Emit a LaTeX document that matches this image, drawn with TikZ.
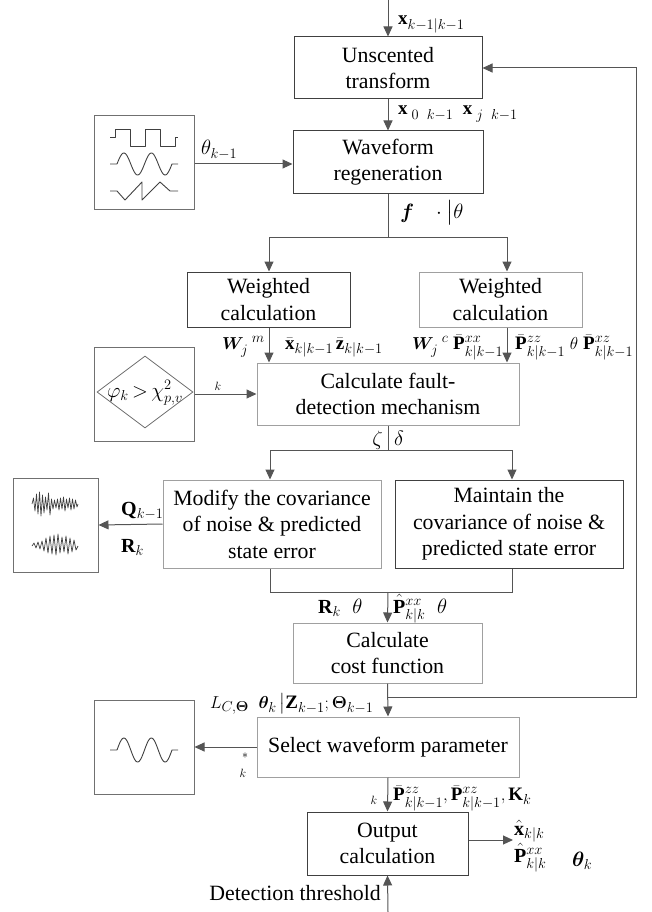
\documentclass[tikz,border=0pt]{standalone}
\usepackage{amsmath,bm}
\usepackage{fontspec}
\setmainfont{Liberation Serif}
\usetikzlibrary{arrows.meta,shapes.geometric}
\definecolor{darkline}{HTML}{404040}
\definecolor{lightline}{HTML}{A0A0A0}
\definecolor{midline}{HTML}{707070}
\definecolor{conn}{HTML}{555555}
\begin{document}
\begin{tikzpicture}[x=1pt,y=-1pt,
  font=\fontsize{21.8}{26.5}\selectfont,
  procbox/.style={draw=darkline,line width=1pt,inner sep=0pt,align=center},
  lightbox/.style={draw=lightline,line width=1pt,inner sep=0pt,align=center},
  iconbox/.style={draw=midline,line width=1pt,inner sep=0pt},
  conline/.style={draw=conn,line width=1pt},
  arr/.style={conline,-{Triangle[length=10pt,width=9pt]}},
  lbl/.style={inner sep=0pt,anchor=base west,font=\fontsize{19}{19}\selectfont},
  small/.style={inner sep=0pt,font=\fontsize{13}{13}\selectfont},
  wave/.style={draw=darkline,line width=0.9pt,line join=round}]
\useasboundingbox (0,0) rectangle (651,912);

% boxes
\node[procbox,minimum width=188pt,minimum height=62pt] (ut) at (388,68) {Unscented\\transform};
\node[procbox,minimum width=190pt,minimum height=62pt] (wr) at (388,162) {Waveform\\regeneration};
\node[procbox,minimum width=163pt,minimum height=55pt] (wl) at (268.5,299.5) {Weighted\\calculation};
\node[lightbox,minimum width=163pt,minimum height=55pt] (wrt) at (500.5,299.5) {Weighted\\calculation};
\node[lightbox,minimum width=262pt,minimum height=62pt] (fd) at (388,394) {Calculate fault-\\detection mechanism};
\node[lightbox,minimum width=218pt,minimum height=88pt] (md) at (272,524) {Modify the covariance\\of noise \& predicted\\state error};
\node[procbox,minimum width=228pt,minimum height=88pt] (mt) at (509,524) {Maintain the\\covariance of noise \&\\predicted state error};
\node[lightbox,minimum width=189pt,minimum height=60pt] (cf) at (387.5,653) {Calculate\\cost function};
\node[lightbox,minimum width=262pt,minimum height=60pt] (sw) at (388,747) {Select waveform parameter};
\node[procbox,minimum width=161pt,minimum height=63pt] (oc) at (387.5,843.5) {Output\\calculation};

% icon boxes
\node[iconbox,minimum width=100pt,minimum height=93pt] (ic1) at (144,162.5) {};
\node[iconbox,minimum width=100pt,minimum height=94pt] (ic2) at (144,394) {};
\node[iconbox,minimum width=85pt,minimum height=94pt] (ic3) at (55.5,525) {};
\node[iconbox,minimum width=100pt,minimum height=94pt] (ic4) at (144,747) {};

% icon contents
\draw[wave] (110,137) -- (115,137) -- (115,129) -- (130,129) -- (130,146) -- (145,146) -- (145,129) -- (160,129) -- (160,146) -- (175,146) -- (175,137) -- (178,137);
\draw[wave] (110,164) -- (117,164) plot[domain=0:2,samples=80] ({117+\x*27.5},{164-11*sin(\x*360)}) -- (178,164);
\draw[wave] (110,191) -- (117,191) -- (125,200) -- (142,182) -- (142,200) -- (160,182) -- (170,191) -- (178,191);
\node[diamond,draw=midline,line width=0.8pt,inner sep=0pt,minimum width=96pt,minimum height=72pt,aspect=1.33] (dm) at (145,392) {};
\node[inner sep=0pt,font=\fontsize{22}{22}\selectfont] (dt) at (145,393) {$\varphi_k\mkern3mu{>}\mkern3mu\chi^{2}_{p,v}$};
\draw[wave,line width=0.7pt] (32,504) -- (33.5,498) -- (35,511) -- (36.5,494) -- (38,514) -- (39.5,492) -- (41,516) -- (42.5,495) -- (44,513) -- (45.5,497) -- (47,510) -- (48.5,493) -- (50,515) -- (51.5,499) -- (53,509) -- (54.5,500) -- (56,508) -- (57.5,499) -- (59,510) -- (60.5,498) -- (62,509) -- (63.5,497) -- (65,511) -- (66.5,499) -- (68,508) -- (69.5,498) -- (71,510) -- (72.5,499) -- (74,509) -- (75.5,500) -- (77,507) -- (78,504);
\draw[wave,line width=0.7pt] (32,546) -- (34,543) -- (36,548) -- (38,542) -- (40,549) -- (42,541) -- (44,551) -- (46,538) -- (48,553) -- (50,536) -- (52,554) -- (54,535) -- (56,555) -- (58,534) -- (60,553) -- (62,537) -- (64,552) -- (66,536) -- (68,554) -- (70,538) -- (72,552) -- (74,540) -- (76,550) -- (78,546);
\draw[wave] (110,750) -- (117,750) plot[domain=0:2,samples=80] ({117+\x*27.5},{750-12*sin(\x*360)}) -- (178,750);

% coordinates
\coordinate (tin) at (388,0);
\coordinate (s1) at (388,237);
\coordinate (s1l) at (269,237);
\coordinate (s1r) at (507,237);
\coordinate (s2) at (388,450);
\coordinate (s2l) at (270,450);
\coordinate (s2r) at (512,450);
\coordinate (m1l) at (270,592);
\coordinate (m1r) at (512,592);
\coordinate (m1) at (388,592);
\coordinate (fb) at (388,697);
\coordinate (fbr) at (636,697);
\coordinate (fbt) at (636,68);
\coordinate (oout) at (513,840);
\coordinate (bin) at (388,912);

% connectors
\draw[arr] (tin) -- (ut.north);
\draw[arr] (ut.south) -- (wr.north);
\draw[arr] (ic1.east |- 0,164) -- (wr.west |- 0,164);
\draw[conline] (wr.south) -- (s1);
\draw[conline] (s1l) -- (s1r);
\draw[arr] (s1l) -- (s1l |- wl.north);
\draw[arr] (s1r) -- (s1r |- wrt.north);
\draw[arr] (s1l |- wl.south) -- (s1l |- fd.north);
\draw[arr] (s1r |- wrt.south) -- (s1r |- fd.north);
\draw[arr] (ic2.east) -- (fd.west |- ic2.east);
\draw[conline] (fd.south) -- (s2);
\draw[conline] (s2l) -- (s2r);
\draw[arr] (s2l) -- (s2l |- md.north);
\draw[arr] (s2r) -- (s2r |- mt.north);
\draw[arr] (md.west) -- (ic3.east);
\draw[conline] (m1l |- md.south) -- (m1l) -- (m1r) -- (m1r |- mt.south);
\draw[arr] (m1) -- (cf.north);
\draw[arr] (cf.south) -- (sw.north);
\draw[arr] (fb) -- (fbr) -- (fbt) -- (ut.east);
\draw[arr] (sw.west) -- (ic4.east);
\draw[arr] (sw.south) -- (oc.north);
\draw[arr] (oc.east |- oout) -- (oout);
\draw[arr] (bin) -- (oc.south);

% labels
\node[lbl] (l1) at (398,25) {$\mathbf{x}_{k-1|k-1}$};
\node[lbl] (l2) at (398,115) {$\mathbf{x}_{\;0\;\;k-1}\;\;\mathbf{x}_{\;j\;\;k-1}$};
\node[lbl,font=\fontsize{22}{22}\selectfont] (l3) at (201,155) {$\theta_{k-1}$};
\node[lbl,font=\fontsize{21}{21}\selectfont] (l4) at (400,218) {$\bm{f}\;\;\;\cdot\big|\theta$};
\node[lbl] (l5) at (222,349) {$\bm{W}_{j}^{\;\;m}$};
\node[lbl] (l6) at (285,349) {$\bar{\mathbf{x}}_{k|k-1}\,\bar{\mathbf{z}}_{k|k-1}$};
\node[lbl] (l7) at (412,349) {$\bm{W}_{j}^{\;\;c}\;\bar{\mathbf{P}}^{xx}_{k|k-1}$};
\node[lbl] (l8) at (515,349) {$\bar{\mathbf{P}}^{zz}_{k|k-1}\;\theta\;\bar{\mathbf{P}}^{xz}_{k|k-1}$};
\node[small] (l9) at (218,386) {$k$};
\node[lbl,anchor=base east,font=\fontsize{22}{22}\selectfont] (l10) at (383,445) {$\zeta$};
\node[lbl,font=\fontsize{22}{22}\selectfont] (l11) at (394,445) {$\delta$};
\node[lbl,font=\fontsize{20}{20}\selectfont] (l12) at (121,515) {$\mathbf{Q}_{k-1}$};
\node[lbl,font=\fontsize{20}{20}\selectfont] (l13) at (121,552) {$\mathbf{R}_{k}$};
\node[lbl,font=\fontsize{20}{20}\selectfont] (l14) at (318,613) {$\mathbf{R}_{k}\;\;\theta$};
\node[lbl,font=\fontsize{20}{20}\selectfont] (l15) at (393,613) {$\hat{\mathbf{P}}^{xx}_{k|k}\;\;\theta$};
\node[lbl] (l16) at (210,708) {$L_{C,\bm{\Theta}}\;\;\bm{\theta}_k\,\big|\mathbf{Z}_{k-1};\bm{\Theta}_{k-1}$};
\node[small] (l17) at (245,756) {$*$};
\node[small] (l18) at (243,773) {$k$};
\node[small] (l19) at (374,800) {$k$};
\node[lbl] (l20) at (393,800) {$\bar{\mathbf{P}}^{zz}_{k|k-1},\bar{\mathbf{P}}^{xz}_{k|k-1},\mathbf{K}_k$};
\node[lbl,font=\fontsize{20}{20}\selectfont] (l21) at (514,835) {$\hat{\mathbf{x}}_{k|k}$};
\node[lbl,font=\fontsize{20}{20}\selectfont] (l22) at (514,862) {$\hat{\mathbf{P}}^{xx}_{k|k}$};
\node[lbl,font=\fontsize{22}{22}\selectfont] (l23) at (572,866) {$\bm{\theta}_k$};
\node[lbl,anchor=base east,font=\fontsize{21.8}{26.5}\selectfont] (l24) at (381,900) {Detection threshold};
\end{tikzpicture}
\end{document}
